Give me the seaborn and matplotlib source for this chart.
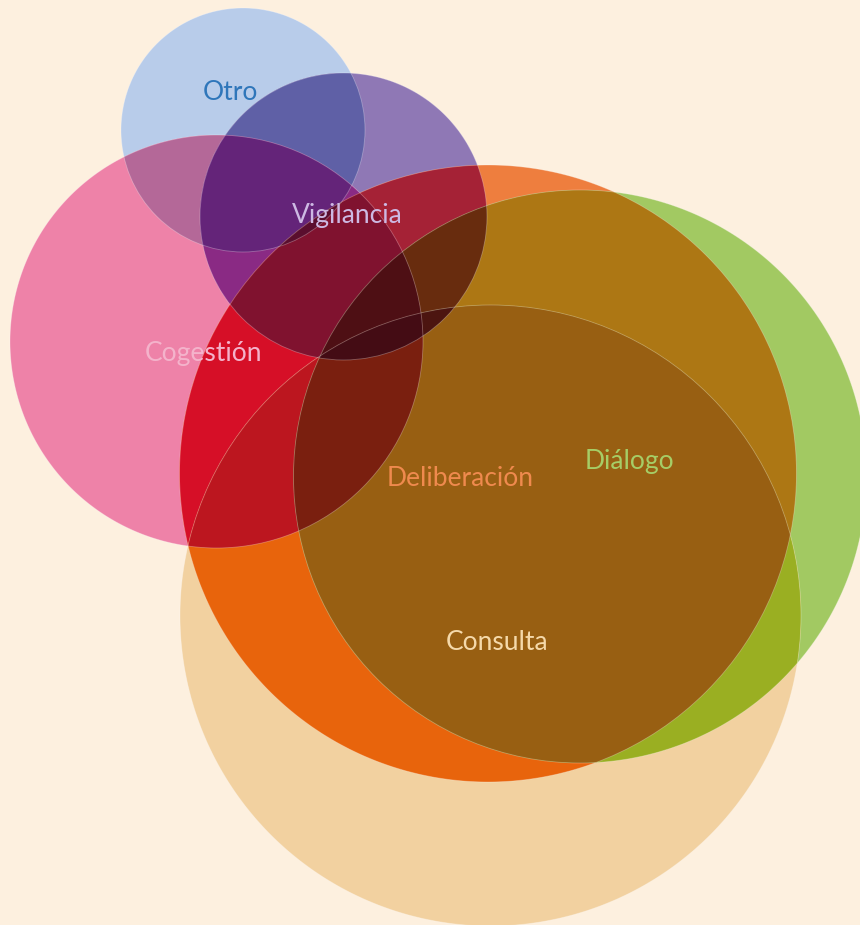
import numpy as np
import matplotlib
matplotlib.use("Agg")
import matplotlib.pyplot as plt
import seaborn as sns
from itertools import combinations
from matplotlib.patches import Circle

# Sets of the diagram, circle centres and radii (drawing units, y pointing down)
sets = ["Otro", "Vigilancia", "Cogestión", "Deliberación", "Diálogo", "Consulta"]
center_x = [243, 343.5, 216.5, 488, 580, 490.5]
center_y = [130, 216.5, 341.5, 473.5, 476.5, 615.5]
radius = [122, 143.5, 206.5, 308.5, 286.5, 310.5]

# where each name is written
label_x = [230, 347, 204, 460, 629, 497]
label_y = [92, 215, 353, 478, 461, 643]

# styles
bg = "#FDF0DF"
label_colors = ["#2F76BA", "#CDB9E3", "#F4B3CB", "#EF8A4E", "#A6CD66", "#F5D9AA"]

# colour of every visible region (circles blend like "multiply")
region_colors = {
    "Otro": "#B8CCEA",
    "Vigilancia": "#8F78B5",
    "Cogestión": "#EE82A8",
    "Deliberación": "#EE7E3E",
    "Diálogo": "#A2C962",
    "Consulta": "#F2D1A0",
    "Otro+Vigilancia": "#5F60A6",
    "Otro+Cogestión": "#B46898",
    "Otro+Vigilancia+Cogestión": "#642479",
    "Vigilancia+Cogestión": "#8A2A84",
    "Vigilancia+Deliberación": "#A52236",
    "Cogestión+Deliberación": "#D60F27",
    "Vigilancia+Cogestión+Deliberación": "#80122F",
    "Otro+Vigilancia+Cogestión+Deliberación": "#5A0E2E",
    "Deliberación+Consulta": "#E8640C",
    "Cogestión+Deliberación+Consulta": "#BC161F",
    "Deliberación+Diálogo": "#AD7714",
    "Deliberación+Diálogo+Consulta": "#985F12",
    "Diálogo+Consulta": "#9AAF22",
    "Vigilancia+Deliberación+Diálogo": "#682C0E",
    "Vigilancia+Deliberación+Diálogo+Consulta": "#4C1510",
    "Vigilancia+Cogestión+Deliberación+Diálogo": "#4E0F14",
    "Vigilancia+Cogestión+Deliberación+Diálogo+Consulta": "#440C14",
    "Cogestión+Deliberación+Diálogo+Consulta": "#7A1F0F",
}

sns.set_theme(style="white")
plt.rcParams["font.family"] = ["Lato", "DejaVu Sans"]

cx = np.array(center_x, dtype=float)
cy = np.array(center_y, dtype=float)
rr = np.array(radius, dtype=float)
bg_rgb = np.array(matplotlib.colors.to_rgb(bg))


def region_color(idx):
    key = "+".join(sets[i] for i in idx)
    if key in region_colors:
        return region_colors[key]
    # fall back to a multiply blend of the single circles
    col = bg_rgb.copy()
    for i in idx:
        single = np.array(matplotlib.colors.to_rgb(region_colors[sets[i]]))
        col = col * np.clip(single / bg_rgb, 0, 1)
    return tuple(col)


def inside_all(px, py, idx, eps=1e-6):
    ok = np.ones_like(px, dtype=bool)
    for j in idx:
        ok &= np.hypot(px - cx[j], py - cy[j]) <= rr[j] + eps
    return ok


def intersection_polygon(idx):
    xs, ys = [], []
    t = np.linspace(0, 2 * np.pi, 900, endpoint=False)
    for i in idx:
        px = cx[i] + rr[i] * np.cos(t)
        py = cy[i] + rr[i] * np.sin(t)
        others = [j for j in idx if j != i]
        keep = inside_all(px, py, others, eps=1e-6)
        xs.append(px[keep])
        ys.append(py[keep])
    for i, j in combinations(idx, 2):
        dx, dy = cx[j] - cx[i], cy[j] - cy[i]
        d = np.hypot(dx, dy)
        if d > rr[i] + rr[j] or d < abs(rr[i] - rr[j]) or d == 0:
            continue
        a = (rr[i] ** 2 - rr[j] ** 2 + d ** 2) / (2 * d)
        h = np.sqrt(max(rr[i] ** 2 - a ** 2, 0))
        mx, my = cx[i] + a * dx / d, cy[i] + a * dy / d
        px = np.array([mx - h * dy / d, mx + h * dy / d])
        py = np.array([my + h * dx / d, my - h * dx / d])
        keep = inside_all(px, py, idx, eps=1e-3)
        xs.append(px[keep])
        ys.append(py[keep])
    px = np.concatenate(xs)
    py = np.concatenate(ys)
    if len(px) < 3:
        return None
    ang = np.arctan2(py - py.mean(), px - px.mean())
    order = np.argsort(ang)
    return px[order], py[order]


fig = plt.figure(figsize=(8.6, 9.25), dpi=100)
fig.patch.set_facecolor(bg)
ax = fig.add_axes([0, 0, 1, 1])
ax.set_facecolor(bg)

# paint every intersection, smaller sets first so each point ends with its own region colour
n = len(sets)
for k in range(1, n + 1):
    for idx in combinations(range(n), k):
        poly = intersection_polygon(idx)
        if poly is None:
            continue
        ax.fill(poly[0], poly[1], color=region_color(idx), lw=0, antialiased=True)

# faint light rims of the circles
for i in range(n):
    ax.add_patch(Circle((cx[i], cy[i]), rr[i], fill=False, ec="white", lw=0.6, alpha=0.3))

for name, x, y, c in zip(sets, label_x, label_y, label_colors):
    ax.text(x, y, name, ha="center", va="center", color=c, fontsize=19,
            fontweight="normal", zorder=5)

ax.set_xlim(0, 860)
ax.set_ylim(925, 0)
ax.set_aspect("auto")
ax.axis("off")

plt.savefig("out.png", dpi=100, facecolor=bg)
